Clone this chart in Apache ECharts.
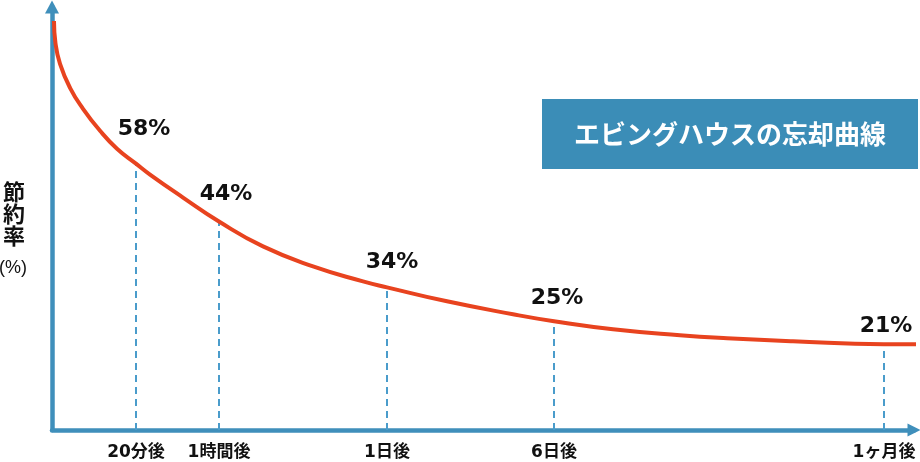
<!DOCTYPE html>
<html>
<head>
<meta charset="utf-8">
<script src="https://cdn.jsdelivr.net/npm/echarts@6/dist/echarts.min.js"></script>
<style>
html,body{margin:0;padding:0;background:#fff;}
#chart{width:920px;height:462px;}
</style>
</head>
<body>
<div id="chart"></div>
<script>
// ---- data ----
var categories = ['20分後', '1時間後', '1日後', '6日後', '1ヶ月後'];
var categoryX = [9.74, 19.37, 38.86, 58.24, 96.52];
var curveAtCategory = [62.97, 49.29, 33.73, 25.71, 20.28];
var retentionLabels = ['58%', '44%', '34%', '25%', '21%'];
var curveX = [0.23, 0.40, 0.93, 2.09, 3.60, 5.57, 7.54, 9.74, 11.37, 15.20, 19.37, 24.48, 30.28, 36.08, 38.86, 45.82, 53.48, 58.24, 65.08, 72.85, 78.31, 85.96, 96.52, 100.7];
var curveY = [96.70, 91.50, 86.56, 80.90, 75.94, 70.75, 66.51, 62.97, 60.38, 54.95, 49.29, 43.40, 38.68, 35.14, 33.73, 30.42, 27.36, 25.71, 23.82, 22.41, 21.70, 20.99, 20.28, 20.28];
var chartTitle = 'エビングハウスの忘却曲線';
var yName = '節約率';
var yUnit = '(%)';

// ---- styles (not data) ----
var labelOffsets = [[8, -34], [7, -27], [5, -25], [3, -23], [2, -18]];
var axisColor = '#3f8fbb';
var curveColor = '#e8431f';
var fontMix = "'DejaVu Sans', 'Noto Sans CJK JP', sans-serif";
var fontCJK = "'Noto Sans CJK JP', sans-serif";

var curveData = curveX.map(function (x, i) { return [x, curveY[i]]; });
var pointData = categoryX.map(function (x, i) {
  return {
    value: [x, curveAtCategory[i]],
    label: { offset: labelOffsets[i] }
  };
});
var dashData = categoryX.map(function (x, i) {
  return [{ coord: [x, 0] }, { coord: [x, curveAtCategory[i]] }];
});

var chart = echarts.init(document.getElementById('chart'), null, { renderer: 'canvas' });
chart.setOption({
  animation: false,
  backgroundColor: '#ffffff',
  grid: { left: 52, right: 6, top: 7, bottom: 32, containLabel: false },
  xAxis: {
    type: 'value', min: 0, max: 100,
    splitLine: { show: false },
    axisTick: { show: false },
    axisLine: {
      show: true, onZero: false,
      symbol: ['none', 'triangle'], symbolSize: [13, 13],
      lineStyle: { color: axisColor, width: 4.5 }
    },
    axisLabel: {
      show: true,
      customValues: categoryX,
      margin: 14,
      color: '#111',
      fontSize: 17,
      fontWeight: 'bold',
      fontFamily: fontMix,
      formatter: function (v) {
        for (var i = 0; i < categoryX.length; i++) {
          if (Math.abs(categoryX[i] - v) < 1e-6) return categories[i];
        }
        return '';
      }
    }
  },
  yAxis: {
    type: 'value', min: 0, max: 100,
    splitLine: { show: false },
    axisTick: { show: false },
    axisLabel: { show: false },
    axisLine: {
      show: true, onZero: false,
      symbol: ['none', 'triangle'], symbolSize: [14, 13],
      lineStyle: { color: axisColor, width: 4.5 }
    }
  },
  graphic: [
    { type: 'rect', shape: { x: 542, y: 99, width: 376, height: 70 }, style: { fill: '#3b8db7' }, z: 10 },
    { type: 'text', x: 730, y: 134, style: { text: chartTitle, fill: '#ffffff', font: 'bold 26px ' + fontCJK, align: 'center', verticalAlign: 'middle' }, z: 11 },
    { type: 'text', x: 14, y: 214, style: { text: yName.split('').join('\n'), fill: '#111', font: 'bold 22px ' + fontCJK, lineHeight: 22, align: 'center', verticalAlign: 'middle' } },
    { type: 'text', x: 13, y: 268, style: { text: yUnit, fill: '#111', font: '18px ' + "'Liberation Sans', sans-serif", align: 'center', verticalAlign: 'middle' } }
  ],
  series: [
    {
      type: 'scatter',
      data: pointData,
      symbolSize: 0,
      itemStyle: { opacity: 1 },
      z: 3,
      label: {
        show: true,
        position: 'inside',
        color: '#111',
        opacity: 1,
        fontSize: 22,
        fontWeight: 'bold',
        fontFamily: fontMix,
        formatter: function (p) { return retentionLabels[p.dataIndex]; }
      },
      markLine: {
        silent: true,
        symbol: ['none', 'none'],
        label: { show: false },
        lineStyle: { color: '#4a9ccb', width: 2, type: [7, 5], opacity: 1 },
        data: dashData
      }
    },
    {
      type: 'line',
      data: curveData,
      smooth: 0.5,
      showSymbol: false,
      clip: false,
      z: 5,
      lineStyle: { color: curveColor, width: 4 }
    }
  ]
});
</script>
</body>
</html>
